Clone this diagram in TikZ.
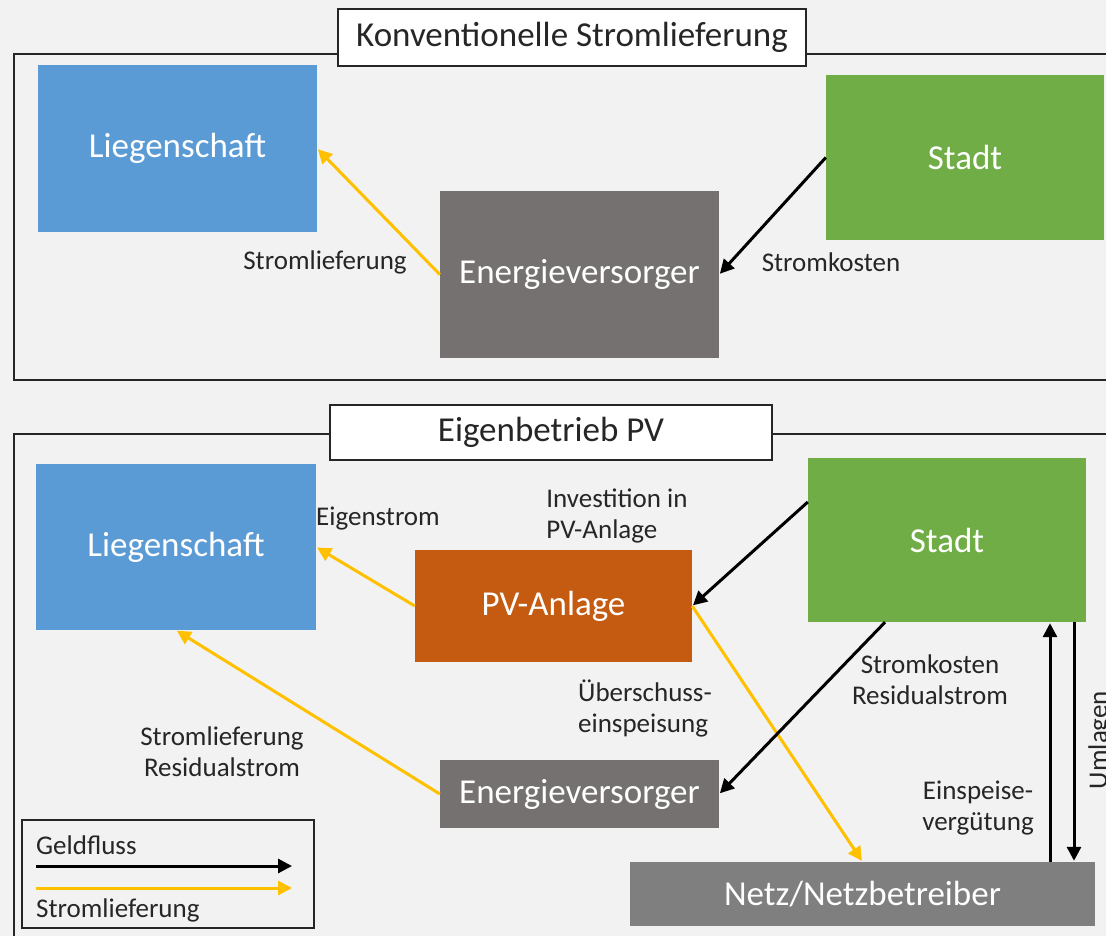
\documentclass[tikz,border=0pt]{standalone}
\usepackage{fontspec}
\setmainfont{Carlito}
\usetikzlibrary{arrows.meta,calc}
\definecolor{bg}{HTML}{F2F2F2}
\definecolor{cblue}{HTML}{5B9BD5}
\definecolor{cgreen}{HTML}{70AD47}
\definecolor{cgray}{HTML}{767171}
\definecolor{cgrayb}{HTML}{7F7F7F}
\definecolor{corange}{HTML}{C55A11}
\definecolor{cyellow}{HTML}{FFC000}
\definecolor{ctext}{HTML}{262626}
\tikzset{
  box/.style={draw=none, inner sep=0pt, text=white, font=\fontsize{35}{40}\selectfont},
  frame/.style={draw=black!85, line width=1.6pt},
  titlebox/.style={draw=black!85, fill=white, line width=1.6pt, inner sep=0pt, text=ctext, font=\fontsize{35}{40}\selectfont},
  lbl/.style={inner sep=0pt, text=ctext, font=\fontsize{27}{31}\selectfont, align=center},
  money/.style={draw=black, line width=3pt, -{Triangle[length=14pt,width=14pt]}, shorten >=1pt},
  power/.style={draw=cyellow, line width=3pt, -{Triangle[length=14pt,width=14pt]}, shorten >=1pt},
}
\begin{document}
\begin{tikzpicture}[x=1pt,y=-1pt]
\clip (0,0) rectangle (1106,936);
\fill[bg] (0,0) rectangle (1106,936);
% frames
\draw[frame] (14,54) rectangle (1130,380);
\draw[frame] (14,434) rectangle (1130,960);
\node[titlebox, minimum width=468pt, minimum height=57pt] (T1) at (572,37.5) {Konventionelle Stromlieferung};
\node[titlebox, minimum width=442pt, minimum height=55pt] (T2) at (551,432.5) {Eigenbetrieb PV};
% top boxes
\node[box, fill=cblue, minimum width=279pt, minimum height=167pt] (L1) at (177.5,148.5) {Liegenschaft};
\node[box, fill=cgreen, minimum width=278pt, minimum height=165pt] (S1) at (965,157.5) {Stadt};
\node[box, fill=cgray, minimum width=279pt, minimum height=167pt] (E1) at (579.5,274.5) {Energieversorger};
% bottom boxes
\node[box, fill=cblue, minimum width=280pt, minimum height=166pt] (L2) at (176,547) {Liegenschaft};
\node[box, fill=cgreen, minimum width=278pt, minimum height=164pt] (S2) at (947,540) {Stadt};
\node[box, fill=corange, minimum width=277pt, minimum height=112pt] (PV) at (553.5,606) {PV-Anlage};
\node[box, fill=cgray, minimum width=279pt, minimum height=68pt] (E2) at (579.5,794) {Energieversorger};
\node[box, fill=cgrayb, minimum width=465pt, minimum height=64pt] (N) at (862.5,894) {Netz/Netzbetreiber};
% top arrows
\draw[power] (E1.west) -- (L1.east);
\draw[money] (S1.west) -- (E1.east);
\node[lbl] (l1) at (325,262) {Stromlieferung};
\node[lbl] (l2) at (831,262) {Stromkosten};
% bottom arrows
\draw[power] (PV.west) -- (L2.east);
\draw[money] ([yshift=38pt]S2.west) -- (PV.east);
\draw[power] (PV.east) -- (N.north);
\draw[power] (E2.west) -- (L2.south);
\draw[money] ([xshift=-62pt]S2.south) -- (E2.east);
\coordinate (upx) at (1050,0);
\coordinate (dnx) at (1074,0);
\draw[money] (N.north -| upx) -- (S2.south -| upx);
\draw[money] (S2.south -| dnx) -- (N.north -| dnx);
\node[lbl] (l3) at (378,519) {Eigenstrom};
\node[lbl, align=left] (l4) at (617,516) {Investition in\\PV-Anlage};
\node[lbl, align=left] (l5) at (645,708) {Überschuss-\\einspeisung};
\node[lbl] (l6) at (222,752) {Stromlieferung\\Residualstrom};
\node[lbl] (l7) at (930,680) {Stromkosten\\Residualstrom};
\node[lbl] (l8) at (978,808) {Einspeise-\\vergütung};
\node[lbl, rotate=90] (l9) at (1100,740) {Umlagen};
% legend
\draw[draw=black!85, line width=1.6pt] (22,820) rectangle (314,928);
\node[lbl, anchor=west] (g1) at (36,845) {Geldfluss};
\node[lbl, anchor=west] (g2) at (36,910) {Stromlieferung};
\coordinate (a1) at (36,866);
\coordinate (a2) at (293,866);
\coordinate (b1) at (36,888);
\coordinate (b2) at (293,888);
\draw[money] (a1) -- (a2);
\draw[power] (b1) -- (b2);
\end{tikzpicture}
\end{document}
